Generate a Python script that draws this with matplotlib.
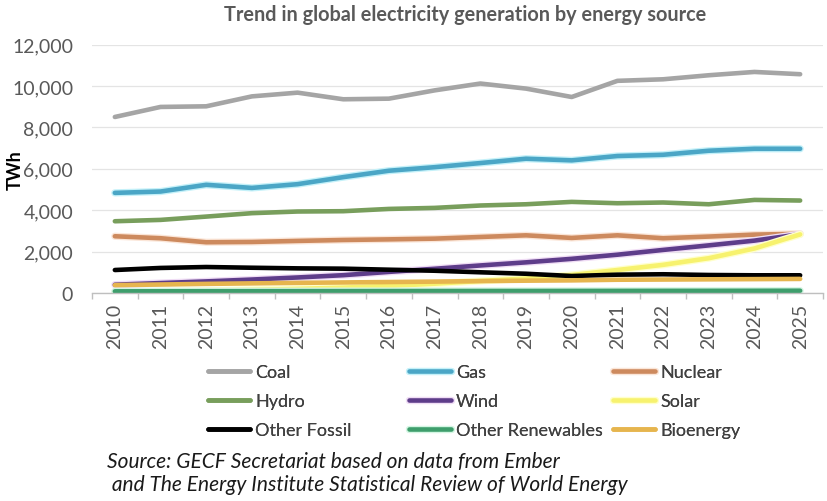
import matplotlib
matplotlib.use("Agg")
import matplotlib.pyplot as plt
import matplotlib.patheffects as pe
import numpy as np

years = [str(y) for y in range(2010, 2026)]

coal = [8500, 8985, 9015, 9495, 9675, 9355, 9385, 9785, 10115, 9870, 9465, 10245, 10320, 10515, 10675, 10565]
gas = [4835, 4900, 5225, 5075, 5255, 5595, 5905, 6075, 6275, 6485, 6405, 6615, 6675, 6870, 6965, 6965]
nuclear = [2740, 2645, 2450, 2465, 2515, 2560, 2590, 2625, 2705, 2785, 2660, 2785, 2645, 2725, 2820, 2860]
hydro = [3465, 3530, 3690, 3855, 3935, 3950, 4060, 4110, 4225, 4285, 4400, 4335, 4370, 4285, 4495, 4465]
wind = [400, 480, 560, 650, 750, 860, 1020, 1170, 1330, 1480, 1650, 1850, 2080, 2300, 2530, 2840]
solar = [40, 70, 110, 150, 200, 260, 340, 450, 580, 700, 870, 1110, 1360, 1680, 2150, 2830]
other_fossil = [1110, 1210, 1255, 1220, 1190, 1175, 1125, 1075, 1000, 930, 820, 885, 905, 870, 855, 855]
other_renew = [80, 83, 85, 87, 89, 91, 93, 95, 97, 98, 100, 102, 104, 105, 107, 110]
bioenergy = [380, 410, 440, 465, 490, 510, 530, 550, 575, 595, 610, 640, 650, 660, 670, 680]

series = [
    ("Coal", coal, "#A5A5A5", None),
    ("Gas", gas, "#4BA6C6", "#C4F1F9"),
    ("Nuclear", nuclear, "#CD8A5E", "#FBE6D8"),
    ("Hydro", hydro, "#789E5C", None),
    ("Wind", wind, "#5E3D8A", "#F0DDF5"),
    ("Solar", solar, "#F7F26E", "#FFFFCC"),
    ("Other Fossil", other_fossil, "#000000", None),
    ("Other Renewables", other_renew, "#3E9E6C", "#D4F6E3"),
    ("Bioenergy", bioenergy, "#E6B54E", None),
]

plt.rcParams['font.family'] = ['Lato', 'DejaVu Sans']

W, H = 827, 502
fig = plt.figure(figsize=(W / 100, H / 100), dpi=100)
left, right, top, bottom = 92, 823, 45.5, 294
ax = fig.add_axes([left / W, 1 - bottom / H, (right - left) / W, (bottom - top) / H])

x = np.arange(len(years))
lines = []
for name, vals, col, glow in series:
    effects = None
    if glow:
        effects = [pe.Stroke(linewidth=5.2, foreground=glow), pe.Normal()]
    ln, = ax.plot(x, vals, color=col, lw=3.3, label=name, solid_capstyle='round',
                  solid_joinstyle='round', path_effects=effects)
    lines.append(ln)

ax.set_xlim(-0.5, len(years) - 0.5)
ax.set_ylim(0, 12000)
ax.set_yticks(np.arange(0, 12001, 2000))
ax.set_yticklabels([f"{v:,}" for v in range(0, 12001, 2000)])
ax.grid(axis='y', color='#E4E4E4', lw=0.9)
ax.set_axisbelow(True)
for s in ['top', 'right', 'left']:
    ax.spines[s].set_visible(False)
ax.spines['bottom'].set_color('#BFBFBF')
ax.spines['bottom'].set_linewidth(1.0)

ax.set_xticks(x)
ax.set_xticklabels(years, rotation=90)
ax.set_xticks(np.arange(-0.5, len(years), 1), minor=True)
ax.tick_params(axis='x', which='major', length=0, pad=7, labelsize=14, labelcolor='#595959')
ax.tick_params(axis='x', which='minor', length=4, color='#BFBFBF', width=1.0)
ax.tick_params(axis='y', length=0, pad=13.5, labelsize=14, labelcolor='#595959')

fig.text(15 / W, 1 - 170 / H, "TWh", rotation=90, ha='center', va='center',
         fontsize=13, fontweight='bold', color='#000000')
fig.text(465 / W, 1 - 15 / H, "Trend in global electricity generation by energy source",
         ha='center', va='center', fontsize=14.3, fontweight='bold', color='#595959')

# legend: three columns
col_x = [208, 409, 613]
for c in range(3):
    hs = lines[c::3]
    leg = fig.legend(handles=hs, labels=[h.get_label() for h in hs],
                     loc='upper left', bbox_to_anchor=(col_x[c] / W, 1 - 365 / H),
                     frameon=False, fontsize=13, handlelength=2.35, handletextpad=0.25,
                     labelspacing=0.72, borderpad=0, borderaxespad=0)
    for t in leg.get_texts():
        t.set_color('#404040')
    fig.add_artist(leg)

fig.text(107 / W, 1 - 462 / H, "Source: GECF Secretariat based on data from Ember",
         ha='left', va='center', fontsize=15, style='italic', color='#1A1A1A')
fig.text(107 / W, 1 - 485 / H, " and The Energy Institute Statistical Review of World Energy",
         ha='left', va='center', fontsize=15, style='italic', color='#1A1A1A')

fig.savefig("out.png", dpi=100)
